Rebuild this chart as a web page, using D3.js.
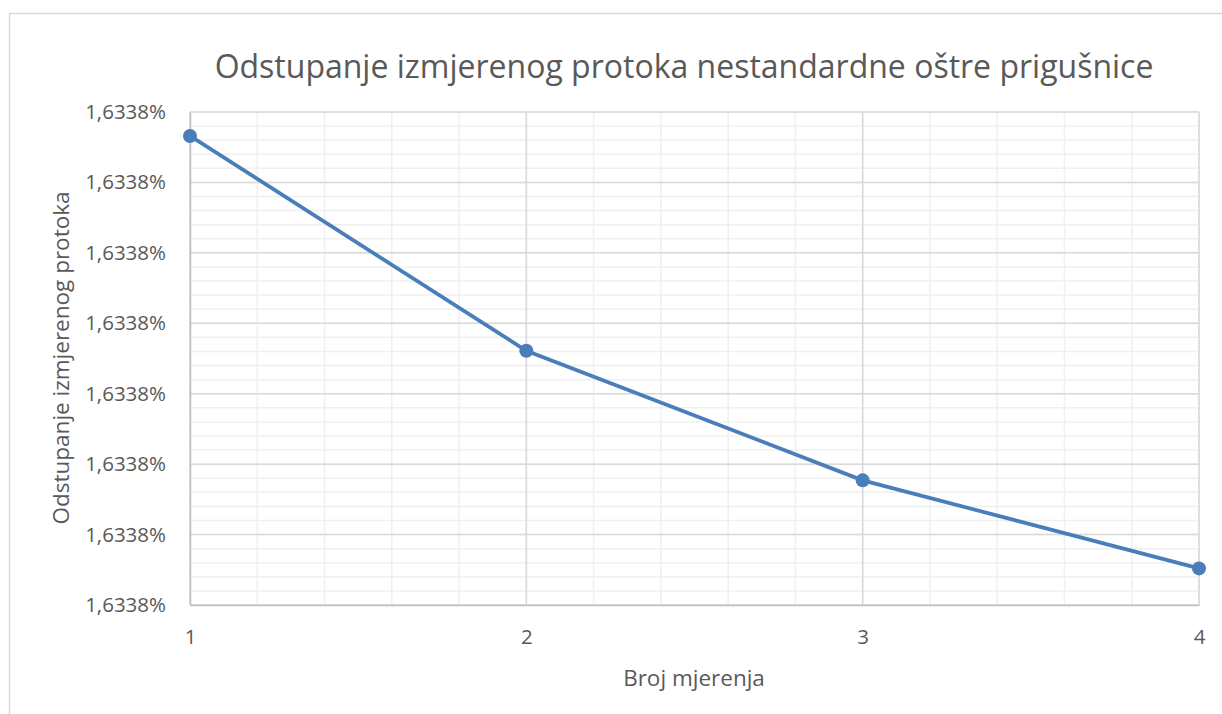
<!DOCTYPE html>
<html>
<head>
<meta charset="utf-8">
<script src="https://cdn.jsdelivr.net/npm/d3@7"></script>
<style>
  body { margin: 0; background: #fff; }
  text { font-family: "Open Sans", "Liberation Sans", sans-serif; fill: #595959; }
</style>
</head>
<body>
<div id="chart"></div>
<script>
// mjerenja i odstupanja (u %)
var mjerenja = [1, 2, 3, 4];
var odstupanje = [1.63380666, 1.63380361, 1.63380177, 1.63380052];
var yTicks = [1.6338000, 1.6338010, 1.6338020, 1.6338030, 1.6338040, 1.6338050, 1.6338060, 1.6338070];

var width = 1222;
var height = 714;
var margin = { top: 112, right: 23, bottom: 109, left: 190 };

var svg = d3.select('#chart')
    .append('svg')
    .attr('width', width)
    .attr('height', height);

// okvir grafikona
svg.append('rect')
    .attr('x', 9.5)
    .attr('y', 13.5)
    .attr('width', width)
    .attr('height', height)
    .attr('fill', 'white')
    .attr('stroke', '#d9d9d9')
    .attr('stroke-width', 1.5);

var scaleX = d3.scaleLinear()
    .domain([1, 4])
    .range([margin.left, width - margin.right]);

var scaleY = d3.scaleLinear()
    .domain([yTicks[0], yTicks[yTicks.length - 1]])
    .range([height - margin.bottom, margin.top]);

var fmt = function (d) { return d3.format('.4f')(d).replace('.', ',') + '%'; };

// sporedne linije mreže
var minorX = d3.range(0, 3 * 5 + 1).map(function (i) { return 1 + i / 5; });
var minorY = d3.range(0, (yTicks.length - 1) * 5 + 1).map(function (i) {
    return yTicks[0] + i * (yTicks[1] - yTicks[0]) / 5;
});

var grid = svg.append('g');
grid.selectAll('.minx')
    .data(minorX)
    .enter()
    .append('line')
    .attr('x1', (d) => scaleX(d)).attr('x2', (d) => scaleX(d))
    .attr('y1', scaleY.range()[1]).attr('y2', scaleY.range()[0])
    .attr('stroke', '#f0f0f0').attr('stroke-width', 1.5);
grid.selectAll('.miny')
    .data(minorY)
    .enter()
    .append('line')
    .attr('x1', scaleX.range()[0]).attr('x2', scaleX.range()[1])
    .attr('y1', (d) => scaleY(d)).attr('y2', (d) => scaleY(d))
    .attr('stroke', '#f0f0f0').attr('stroke-width', 1.5);

// glavne linije mreže
grid.selectAll('.majx')
    .data(mjerenja)
    .enter()
    .append('line')
    .attr('x1', (d) => scaleX(d)).attr('x2', (d) => scaleX(d))
    .attr('y1', scaleY.range()[1]).attr('y2', scaleY.range()[0])
    .attr('stroke', '#d9d9d9').attr('stroke-width', 1.5);
grid.selectAll('.majy')
    .data(yTicks)
    .enter()
    .append('line')
    .attr('x1', scaleX.range()[0]).attr('x2', scaleX.range()[1])
    .attr('y1', (d) => scaleY(d)).attr('y2', (d) => scaleY(d))
    .attr('stroke', '#d9d9d9').attr('stroke-width', 1.5);

// osi
var xAxis = d3.axisBottom(scaleX).tickValues(mjerenja).tickSize(0).tickPadding(24).tickFormat(d3.format('d'));
var yAxis = d3.axisLeft(scaleY).tickValues(yTicks).tickSize(0).tickPadding(24).tickFormat(fmt);

var gx = svg.append('g')
    .attr('transform', 'translate(0,' + (height - margin.bottom) + ')')
    .call(xAxis);
var gy = svg.append('g')
    .attr('transform', 'translate(' + margin.left + ',0)')
    .call(yAxis);

[gx, gy].forEach(function (g) {
    g.attr('font-size', null).attr('font-family', null);
    g.select('.domain').attr('stroke', '#bfbfbf').attr('stroke-width', 1.5);
    g.selectAll('text').style('font-size', '20.5px').attr('fill', '#595959');
});

// linija i točke
var line = d3.line()
    .x((d, i) => scaleX(mjerenja[i]))
    .y((d) => scaleY(d));

svg.append('path')
    .datum(odstupanje)
    .attr('d', line)
    .attr('fill', 'none')
    .attr('stroke', '#4a7ebb')
    .attr('stroke-width', 3.75);

svg.append('g')
    .selectAll('circle')
    .data(odstupanje)
    .enter()
    .append('circle')
    .attr('cx', (d, i) => scaleX(mjerenja[i]))
    .attr('cy', (d) => scaleY(d))
    .attr('r', 7)
    .attr('fill', '#4a7ebb');

// naslov
svg.append('text')
    .attr('x', 684)
    .attr('y', 78)
    .attr('text-anchor', 'middle')
    .style('font-size', '32px')
    .text('Odstupanje izmjerenog protoka nestandardne oštre prigušnice');

// naslov osi X
svg.append('text')
    .attr('x', 694)
    .attr('y', 686)
    .attr('text-anchor', 'middle')
    .style('font-size', '22.5px')
    .text('Broj mjerenja');

// naslov osi Y
svg.append('text')
    .attr('transform', 'translate(69,358) rotate(-90)')
    .attr('text-anchor', 'middle')
    .style('font-size', '22.5px')
    .text('Odstupanje izmjerenog protoka');
</script>
</body>
</html>
